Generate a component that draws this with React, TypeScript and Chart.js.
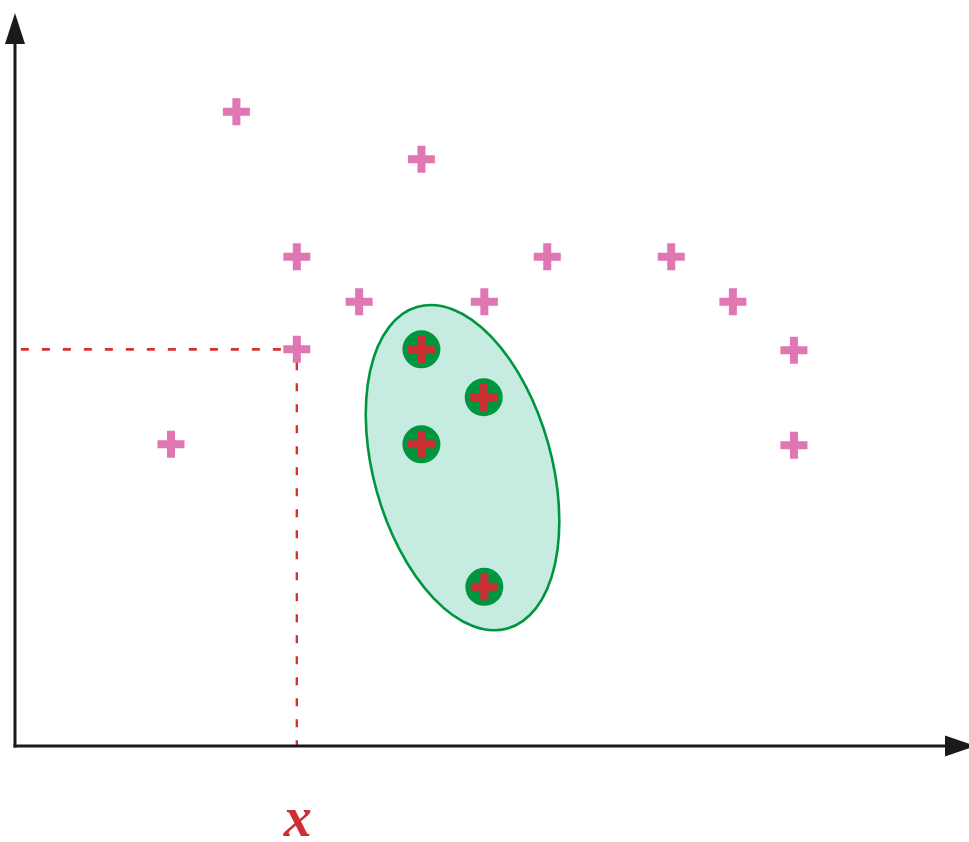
import React, { useEffect, useRef } from "react";
import { Chart, registerables } from "chart.js";

Chart.register(...registerables);

// Background samples (pink crosses)
const bgX = [3.55, 6.52, 4.52, 8.54, 10.53, 5.52, 7.53, 11.52, 4.52, 12.5, 2.5, 12.5];
const bgY = [13, 12, 9.95, 9.95, 9.95, 9, 9, 9, 8, 7.98, 6, 5.98];

// Highlighted samples inside the region (green disc + red cross)
const hiX = [6.52, 7.52, 6.52, 7.53];
const hiY = [8, 6.99, 6, 3];

// Marked sample: dashed guides go to the axes from here
const markX = 4.52;
const markY = 8;

// Region enclosing the highlighted samples
const regionCenterX = 7.18;
const regionCenterY = 5.51;

const axisLabel = "x";

const PINK = "#e076b4";
const GREEN = "#00963f";
const RED = "#cc2f33";
const DASH_RED = "#d63232";
const FILL = "#c6ebe1";
const INK = "#1a1a1a";

const regionPlugin = {
  id: "region",
  beforeDatasetsDraw(chart: any) {
    const { ctx, scales } = chart;
    const cx = scales.x.getPixelForValue(regionCenterX);
    const cy = scales.y.getPixelForValue(regionCenterY);
    ctx.save();
    ctx.beginPath();
    ctx.ellipse(cx, cy, 89, 167, (-15.6 * Math.PI) / 180, 0, Math.PI * 2);
    ctx.fillStyle = FILL;
    ctx.fill();
    ctx.lineWidth = 2.6;
    ctx.strokeStyle = GREEN;
    ctx.stroke();
    ctx.restore();
  },
};

const axesPlugin = {
  id: "arrowAxes",
  afterDatasetsDraw(chart: any) {
    const { ctx, chartArea, scales } = chart;
    const { left, top, right, bottom } = chartArea;
    ctx.save();
    ctx.strokeStyle = INK;
    ctx.fillStyle = INK;
    ctx.lineWidth = 3;
    ctx.lineCap = "butt";
    // vertical axis
    ctx.beginPath();
    ctx.moveTo(left, bottom + 1.5);
    ctx.lineTo(left, top + 20);
    ctx.stroke();
    ctx.beginPath();
    ctx.moveTo(left, top);
    ctx.lineTo(left - 10, top + 31);
    ctx.lineTo(left + 10, top + 31);
    ctx.closePath();
    ctx.fill();
    // horizontal axis
    ctx.beginPath();
    ctx.moveTo(left - 1.5, bottom);
    ctx.lineTo(right - 20, bottom);
    ctx.stroke();
    ctx.beginPath();
    ctx.moveTo(right + 7, bottom);
    ctx.lineTo(right - 24, bottom - 10.5);
    ctx.lineTo(right - 24, bottom + 10.5);
    ctx.closePath();
    ctx.fill();
    // axis label under the marked position
    ctx.fillStyle = RED;
    ctx.font = "italic bold 56px 'Liberation Serif', 'DejaVu Serif', serif";
    ctx.textAlign = "center";
    ctx.textBaseline = "alphabetic";
    ctx.fillText(axisLabel, scales.x.getPixelForValue(markX) + 1, bottom + 90);
    ctx.restore();
  },
};

export default function App() {
  const ref = useRef<HTMLCanvasElement | null>(null);

  useEffect(() => {
    if (!ref.current) return;
    const chart = new Chart(ref.current, {
      type: "scatter",
      data: {
        datasets: [
          {
            label: "highlight crosses",
            data: hiX.map((x, i) => ({ x, y: hiY[i] })),
            pointStyle: "cross",
            pointRadius: 13.5,
            pointBorderWidth: 8,
            borderColor: RED,
            backgroundColor: RED,
            order: 0,
          },
          {
            label: "highlight discs",
            data: hiX.map((x, i) => ({ x, y: hiY[i] })),
            pointStyle: "circle",
            pointRadius: 19,
            pointBorderWidth: 0,
            borderColor: GREEN,
            backgroundColor: GREEN,
            order: 1,
          },
          {
            label: "samples",
            data: bgX.map((x, i) => ({ x, y: bgY[i] })),
            pointStyle: "cross",
            pointRadius: 13.5,
            pointBorderWidth: 8,
            borderColor: PINK,
            backgroundColor: PINK,
            order: 2,
          },
          {
            label: "guide horizontal",
            data: [
              { x: 0.09, y: markY },
              { x: markX, y: markY },
            ],
            showLine: true,
            borderColor: DASH_RED,
            borderWidth: 2.6,
            borderDash: [8, 13],
            pointRadius: 0,
            order: 3,
          },
          {
            label: "guide vertical",
            data: [
              { x: markX, y: markY },
              { x: markX, y: -0.35 },
            ],
            showLine: true,
            borderColor: DASH_RED,
            borderWidth: 2.4,
            borderDash: [8, 13],
            borderDashOffset: 8,
            pointRadius: 0,
            order: 3,
          },
        ],
      },
      options: {
        animation: false,
        responsive: false,
        maintainAspectRatio: false,
        layout: { autoPadding: false, padding: { left: 15, right: 0, top: 13, bottom: 96 } },
        plugins: {
          legend: { display: false },
          tooltip: { enabled: false },
        },
        scales: {
          x: { type: "linear", display: false, min: -0.004, max: 15.31 },
          y: { type: "linear", display: false, min: -0.35, max: 15.08 },
        },
      },
      plugins: [regionPlugin, axesPlugin],
    });
    return () => chart.destroy();
  }, []);

  return (
    <div style={{ position: "absolute", left: 0, top: 0, width: 969, height: 842 }}>
      <canvas ref={ref} width={969} height={842} style={{ display: "block" }} />
    </div>
  );
}
